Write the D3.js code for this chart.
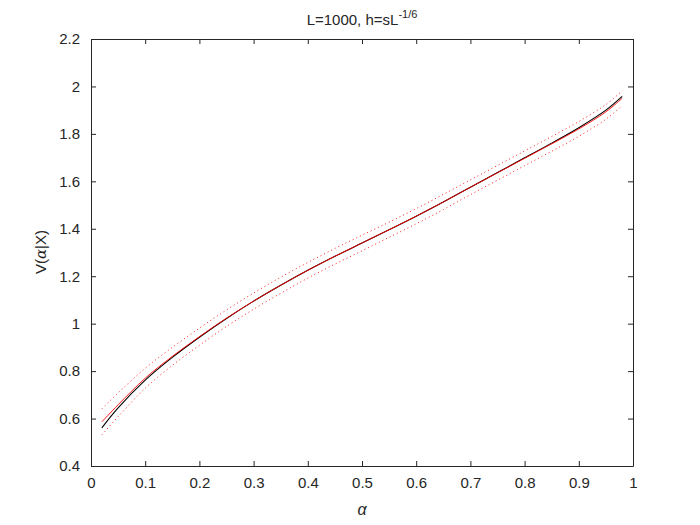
<!DOCTYPE html>
<html><head><meta charset="utf-8">
<script src="https://cdn.jsdelivr.net/npm/d3@7"></script>
<style>body{margin:0;background:#fff}svg{display:block}text{font-family:"Liberation Sans",Arial,sans-serif;fill:#262626}</style>
</head><body><svg id="c" width="700" height="525"></svg>
<script>
const alphaVals = [0.02,0.05,0.1,0.15,0.2,0.25,0.3,0.35,0.4,0.45,0.5,0.55,0.6,0.65,0.7,0.75,0.8,0.85,0.9,0.95,0.98];
const trueV     = [0.561,0.645,0.762,0.858,0.943,1.022,1.095,1.162,1.225,1.284,1.340,1.396,1.453,1.513,1.575,1.637,1.699,1.761,1.826,1.900,1.958];
const estV      = [0.586,0.658,0.770,0.862,0.945,1.023,1.095,1.162,1.225,1.284,1.340,1.396,1.453,1.513,1.575,1.636,1.697,1.758,1.821,1.893,1.950];
const upperV    = [0.641,0.708,0.812,0.900,0.981,1.058,1.129,1.196,1.258,1.317,1.373,1.428,1.485,1.545,1.606,1.667,1.728,1.789,1.852,1.924,1.981];
const lowerV    = [0.531,0.608,0.728,0.824,0.909,0.988,1.061,1.128,1.192,1.251,1.307,1.364,1.421,1.481,1.544,1.605,1.666,1.727,1.790,1.862,1.919];
const xTicks = [0,0.1,0.2,0.3,0.4,0.5,0.6,0.7,0.8,0.9,1];
const yTicks = [0.4,0.6,0.8,1,1.2,1.4,1.6,1.8,2,2.2];

const svg = d3.select('#c');
const L=91, R=633, T=39, B=466;
const x = d3.scaleLinear().domain([0,1]).range([L,R]);
const y = d3.scaleLinear().domain([0.4,2.2]).range([B,T]);
const ax='#262626';

const line = arr => d3.line().x((d,i)=>x(alphaVals[i])).y(d=>y(d)).curve(d3.curveCatmullRom.alpha(0.5))(arr);

svg.append('path').attr('d',line(upperV)).attr('fill','none').attr('stroke','#ff0000').attr('stroke-width',0.9).attr('stroke-dasharray','1,3');
svg.append('path').attr('d',line(lowerV)).attr('fill','none').attr('stroke','#ff0000').attr('stroke-width',0.9).attr('stroke-dasharray','1,3');
svg.append('path').attr('d',line(trueV)).attr('fill','none').attr('stroke','#000').attr('stroke-width',1.1);
svg.append('path').attr('d',line(estV)).attr('fill','none').attr('stroke','#ff0000').attr('stroke-width',0.9);

// axes
const gx = svg.append('g').attr('transform',`translate(0,${B})`).call(d3.axisBottom(x).tickValues(xTicks).tickFormat(d3.format('~g')).tickSizeInner(-5).tickSizeOuter(0).tickPadding(11));
const gxt = svg.append('g').attr('transform',`translate(0,${T})`).call(d3.axisTop(x).tickValues(xTicks).tickFormat('').tickSizeInner(-5).tickSizeOuter(0));
const gy = svg.append('g').attr('transform',`translate(${L},0)`).call(d3.axisLeft(y).tickValues(yTicks).tickFormat(d3.format('~g')).tickSizeInner(-5).tickSizeOuter(0).tickPadding(11));
const gyr = svg.append('g').attr('transform',`translate(${R},0)`).call(d3.axisRight(y).tickValues(yTicks).tickFormat('').tickSizeInner(-5).tickSizeOuter(0));
[gx,gxt,gy,gyr].forEach(g=>{
  g.selectAll('path').attr('stroke',ax).attr('stroke-width',1);
  g.selectAll('line').attr('stroke',ax);
  g.selectAll('text').attr('font-size',15).attr('fill',ax).attr('font-family','"Liberation Sans",Arial,sans-serif');
});
gx.selectAll('text').attr('dy','0.71em');

// title
const t = svg.append('text').attr('x',362).attr('y',25).attr('text-anchor','middle').attr('font-size',15);
t.append('tspan').text('L=1000, h=sL');
t.append('tspan').attr('dy',-7).attr('font-size',11).text('-1/6');

// x label
svg.append('text').attr('x',362).attr('y',515).attr('text-anchor','middle').attr('font-size',16).attr('font-family','"DejaVu Serif","Liberation Serif",serif').attr('font-style','italic').text('α');

// y label
const yl = svg.append('text').attr('transform','translate(46,252) rotate(-90)').attr('text-anchor','middle').attr('font-size',15);
yl.append('tspan').text('V(');
yl.append('tspan').attr('font-family','"DejaVu Serif","Liberation Serif",serif').attr('font-style','italic').text('α');
yl.append('tspan').text('|X)');
</script></body></html>
